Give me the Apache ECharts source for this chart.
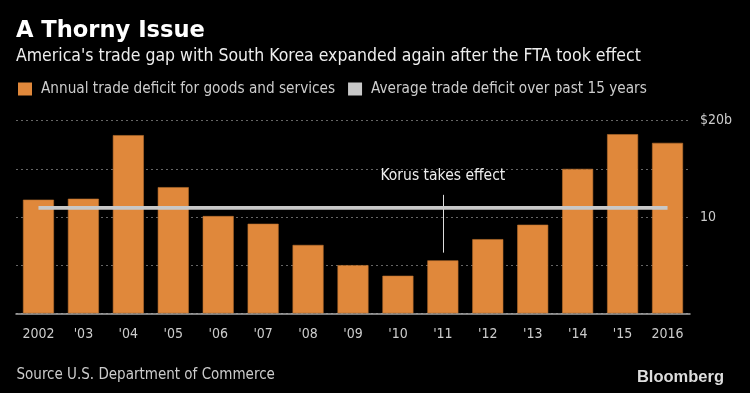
<!DOCTYPE html>
<html>
<head>
<meta charset="utf-8">
<script src="https://cdn.jsdelivr.net/npm/echarts@6/dist/echarts.min.js"></script>
<style>
html,body{margin:0;padding:0;background:#000;}
#c{width:750px;height:393px;}
</style>
</head>
<body>
<div id="c"></div>
<script>
const categories = ['2002', "'03", "'04", "'05", "'06", "'07", "'08", "'09", "'10", "'11", "'12", "'13", "'14", "'15", '2016'];
const annualDeficit = [11.8, 11.9, 18.5, 13.1, 10.1, 9.3, 7.1, 5.0, 3.9, 5.5, 7.7, 9.2, 15.0, 18.6, 17.7];
const averageDeficit = [10.95, 10.95, 10.95, 10.95, 10.95, 10.95, 10.95, 10.95, 10.95, 10.95, 10.95, 10.95, 10.95, 10.95, 10.95];
const yTickLabels = {10: '10', 20: '$20b'};
const seriesNames = ['Annual trade deficit for goods and services', 'Average trade deficit over past 15 years'];
const annotationText = 'Korus takes effect';
const annotationCategory = "'11";

const COND = "'DejaVu Sans Condensed', 'DejaVu Sans', sans-serif";
const chart = echarts.init(document.getElementById('c'), null, {renderer: 'canvas'});
chart.setOption({
  backgroundColor: '#000',
  animation: false,
  title: [
    {text: 'A Thorny Issue', left: 16, top: 19.5, padding: 0,
     textStyle: {color: '#fff', fontFamily: "'DejaVu Sans', sans-serif", fontWeight: 'bold', fontSize: 22.6}},
    {text: "America's trade gap with South Korea expanded again after the FTA took effect", left: 16, top: 47.5, padding: 0,
     textStyle: {color: '#eee', fontFamily: COND, fontWeight: 'normal', fontSize: 17.5}},
    {text: 'Source U.S. Department of Commerce', left: 16.5, top: 367.5, padding: 0,
     textStyle: {color: '#ccc', fontFamily: COND, fontWeight: 'normal', fontSize: 15}},
    {text: 'Bloomberg', right: 26, top: 369, padding: 0,
     textStyle: {color: '#ddd', fontFamily: "'Liberation Sans', Arial, sans-serif", fontWeight: 'bold', fontSize: 16.5}}
  ],
  legend: {
    left: 18, top: 81.5, itemWidth: 14, itemHeight: 13, itemGap: 13, padding: 0,
    textStyle: {color: '#ccc', fontFamily: COND, fontSize: 15.2, padding: [0, 0, 0, 4]},
    data: [
      {name: seriesNames[0], icon: 'rect', itemStyle: {color: '#e0883b', borderWidth: 0}},
      {name: seriesNames[1], icon: 'rect', itemStyle: {color: '#c8c8c8', borderWidth: 0}}
    ]
  },
  grid: {left: 16, right: 60, top: 120.7, bottom: 79.7},
  xAxis: {
    type: 'category', data: categories,
    axisLine: {lineStyle: {color: '#aaa', width: 1.5}},
    axisTick: {alignWithLabel: true, length: 6, lineStyle: {color: '#999'}},
    axisLabel: {color: '#ccc', fontFamily: COND, fontSize: 14, margin: 14}
  },
  yAxis: {
    type: 'value', position: 'right', min: 0, max: 20, interval: 5,
    axisLine: {show: false}, axisTick: {show: false},
    axisLabel: {color: '#ccc', fontFamily: COND, fontSize: 14, margin: 10,
      formatter: v => yTickLabels[v] || ''},
    splitLine: {lineStyle: {color: '#666', type: [2, 3], width: 1}}
  },
  series: [
    {
      name: seriesNames[0], type: 'bar', data: annualDeficit, barWidth: 31,
      itemStyle: {color: '#e0883b', borderColor: '#b86e2e', borderWidth: 0.6},
      markLine: {
        symbol: 'none', silent: true,
        lineStyle: {color: '#ddd', width: 1, type: 'solid'},
        label: {show: true, position: 'end', formatter: annotationText, color: '#eee',
          fontFamily: COND, fontSize: 15.5, distance: 11},
        data: [[{coord: [annotationCategory, 6.3]}, {coord: [annotationCategory, 12.3]}]]
      }
    },
    {
      name: seriesNames[1], type: 'line', data: averageDeficit, symbol: 'none', z: 5,
      color: '#c8c8c8',
      lineStyle: {color: '#c8c8c8', width: 3.8}
    }
  ]
});
</script>
</body>
</html>
